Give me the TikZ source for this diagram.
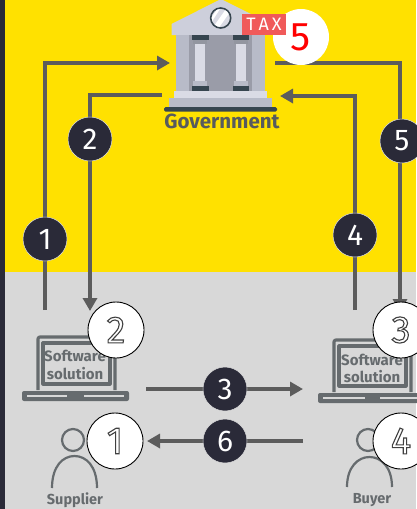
\documentclass[tikz,border=0pt]{standalone}
\usepackage{fontspec}
\setmainfont{Fira Sans}
\usetikzlibrary{arrows.meta}
\definecolor{ylw}{HTML}{FFE100}
\definecolor{gry}{HTML}{D8D8D8}
\definecolor{strip}{HTML}{2A2A38}
\definecolor{ln}{HTML}{5C5C5C}
\definecolor{badgec}{HTML}{2A2A38}
\definecolor{slate}{HTML}{36454F}
\definecolor{bodyc}{HTML}{B8BBC8}
\definecolor{roofc}{HTML}{CDCFDB}
\definecolor{innerc}{HTML}{9A9CA8}
\definecolor{palec}{HTML}{DADBE5}
\definecolor{taxc}{HTML}{F05A5A}
\definecolor{lap}{HTML}{666B6E}
\tikzset{
  flow/.style={draw=ln,line width=3.4pt,-{Triangle[length=13pt,width=14pt]}},
  badge/.style={circle,fill=badgec,draw=gry!70!white,line width=0.5pt,minimum size=44pt,inner sep=0pt,text=white,font=\fontsize{30}{30}\selectfont},
  bubble/.style={circle,fill=white,draw=black,line width=0.9pt,minimum size=56pt,inner sep=0pt,font=\fontsize{38}{38}\selectfont},
  lbl/.style={inner sep=0pt,text=lap,font=\fontsize{14.5}{14.5}\selectfont\bfseries},
  soft/.style={inner sep=0pt,text=lap,align=center,font=\fontsize{15}{17.5}\selectfont\bfseries},
  lapline/.style={draw=lap,line width=3.2pt,line join=round},
  person/.style={draw=lap,line width=2.2pt}
}
\newcommand{\outl}[1]{\special{pdf:code q 1 Tr 1.1 w 0.25 0.25 0.25 RG}#1\special{pdf:code Q}}
\begin{document}
\begin{tikzpicture}[x=1pt,y=-1pt]
\useasboundingbox (0,0) rectangle (416,509);
\fill[gry] (0,0) rectangle (416,509);
\fill[ylw] (0,0) rectangle (416,272);
\fill[strip] (0,0) rectangle (5,509);
% anchors
\coordinate (a1s) at (45,310);
\coordinate (a1c) at (45,63);
\coordinate (a1e) at (170,63);
\coordinate (a2s) at (162,95);
\coordinate (a2c) at (90,95);
\coordinate (a2e) at (90,311);
\coordinate (a4s) at (355,310);
\coordinate (a4c) at (355,96);
\coordinate (a4e) at (280,96);
\coordinate (a5s) at (275,63);
\coordinate (a5c) at (400,63);
\coordinate (a5e) at (400,312);
\coordinate (a3s) at (146,389);
\coordinate (a3e) at (303,389);
\coordinate (a6s) at (303,441);
\coordinate (a6e) at (147,441);
% connectors
\draw[flow] (a1s) -- (a1c) -- (a1e);
\draw[flow] (a2s) -- (a2c) -- (a2e);
\draw[flow] (a4s) -- (a4c) -- (a4e);
\draw[flow] (a5s) -- (a5c) -- (a5e);
\draw[flow] (a3s) -- (a3e);
\draw[flow] (a6s) -- (a6e);
% badges
\node[badge] (b1) at (45,239) {1};
\node[badge] (b2) at (90,139) {2};
\node[badge] (b4) at (355,235) {4};
\node[badge] (b5) at (402,141) {5};
\node[badge] (b3) at (225,389) {3};
\node[badge] (b6) at (225,441) {6};
% government building
\fill[roofc] (171.5,35) -- (171.5,24) -- (221,-1) -- (265,21) -- (265,35) -- cycle;
\fill[bodyc] (176,35) rectangle (265,91);
\fill[innerc] (189,35) rectangle (252,91);
\fill[palec] (195,43) rectangle (205,82);
\fill[palec] (236,43) rectangle (246,82);
\fill[bodyc!80!black] (193,39) rectangle (207,44);
\fill[bodyc!80!black] (234,39) rectangle (248,44);
\fill[bodyc] (193,81) rectangle (207,86);
\fill[bodyc] (234,81) rectangle (248,86);
\fill[slate] (192,35) rectangle (208.5,39.5);
\fill[slate] (232.5,35) rectangle (249,39.5);
\fill[slate] (192,86) rectangle (208.5,90.5);
\fill[slate] (232.5,86) rectangle (249,90.5);
\fill[palec] (174,91) rectangle (267,98);
\fill[bodyc] (169,98) rectangle (272,107);
\fill[slate,rounded corners=1.5pt] (164,107) rectangle (277,111.5);
\draw[slate,line width=1.6pt,fill=palec] (220.7,18) circle (10);
\begin{scope}
\clip (220.7,18) circle (9);
\fill[white] (214,26) -- (226,9) -- (230,12) -- (218,29) -- cycle;
\fill[white] (209,21) -- (218,8) -- (220,9) -- (211,23) -- cycle;
\end{scope}
\node[inner sep=0pt,text=lap!85!black,font=\fontsize{20.5}{20.5}\selectfont\bfseries] (gov) at (222,121) {Government};
% bubble 5 + tax
\node[bubble,draw=none,text=red,font=\fontsize{40}{40}\selectfont] (w5) at (301,37) {5};
\node[fill=taxc,text=white,minimum width=44pt,minimum height=21pt,inner sep=0pt,font=\fontsize{18}{18}\selectfont] (tax) at (264,24.5) {T\,A\,X};
% left laptop
\draw[lapline,rounded corners=2pt] (38,390) -- (38,337) -- (115,337) -- (115,390);
\draw[lapline] (43,343) rectangle (110,384);
\fill[lap,rounded corners=2pt] (22,391) rectangle (129,401);
\fill[gry] (27,394.5) rectangle (67,396.5);
\fill[gry] (84,394.5) rectangle (124,396.5);
\node[soft] (sw1) at (75,365) {Software\\solution};
% right laptop
\draw[lapline,rounded corners=2pt] (334,392) -- (334,340) -- (411,340) -- (411,392);
\draw[lapline] (339,346) rectangle (406,386);
\fill[lap,rounded corners=2pt] (318,393) rectangle (425,403);
\fill[gry] (323,396.5) rectangle (365,398.5);
\fill[gry] (380,396.5) rectangle (420,398.5);
\node[soft] (sw2) at (372,368.5) {Software\\solution};
% persons
\draw[person] (73,440) circle (11);
\draw[person] (52,488) .. controls (52,466) and (63,456) .. (74.5,456) .. controls (86,456) and (97,466) .. (97,488);
\node[lbl] (sup) at (75,500) {Supplier};
\draw[person] (368,440) circle (11);
\draw[person] (347,487) .. controls (347,467) and (358,457) .. (369.5,457) .. controls (381,457) and (392,467) .. (392,487);
\node[lbl] (buy) at (372,500) {Buyer};
% white bubbles
\node[bubble] (w2) at (116,330) {\outl{2}};
\node[bubble] (w1) at (115,441) {\outl{1}};
\node[bubble] (w3) at (401,330) {\outl{3}};
\node[bubble] (w4) at (401,441) {\outl{4}};
\end{tikzpicture}
\end{document}
